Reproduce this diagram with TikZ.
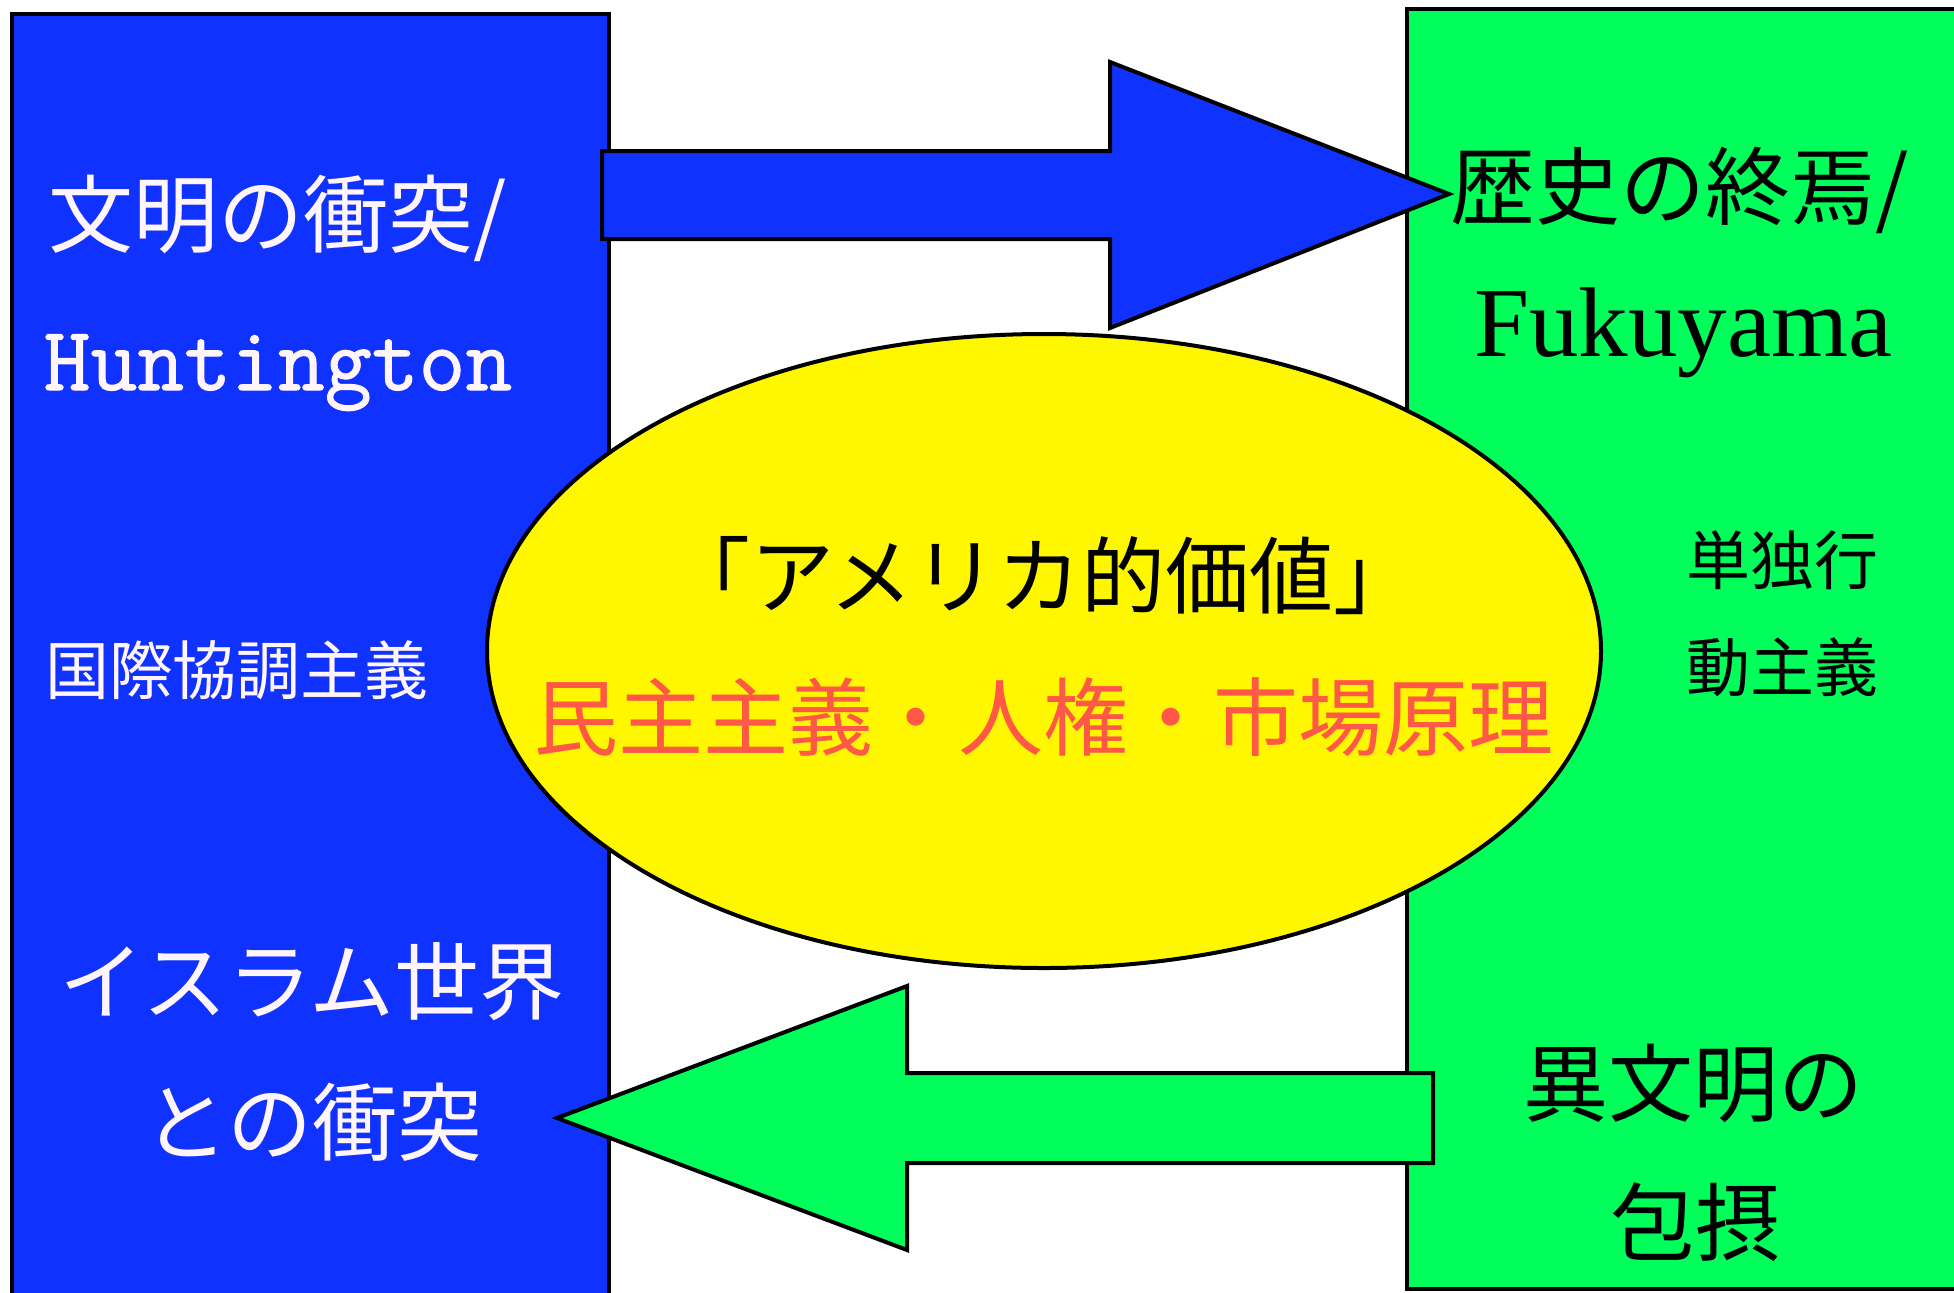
\documentclass[tikz,border=0pt]{standalone}
\usepackage{fontspec}
\usetikzlibrary{shapes.geometric}
\newfontfamily\jp{Noto Sans CJK JP}
\newfontfamily\tms{Liberation Serif}
\newfontfamily\huntfont[FakeBold=1.2]{Latin Modern Mono}
\definecolor{boxblue}{RGB}{16,50,255}
\definecolor{boxgreen}{RGB}{0,255,90}
\definecolor{ellyellow}{RGB}{255,247,0}
\definecolor{valred}{RGB}{255,88,70}
\definecolor{wtext}{RGB}{255,245,250}
\tikzset{
  panel/.style={draw=black, line width=2pt, inner sep=0pt, rectangle},
  bigarrow/.style={draw=black, line width=2pt, line join=miter},
  jpbig/.style={inner sep=0pt, font=\jp\fontsize{42.5}{50}\selectfont},
  jpmid/.style={inner sep=0pt, font=\jp\fontsize{42}{48}\selectfont},
  jpsmall/.style={inner sep=0pt, font=\jp\fontsize{32}{38}\selectfont},
}
\begin{document}
\begin{tikzpicture}[x=0.5pt,y=-0.5pt]
\useasboundingbox (0,0) rectangle (1954,1292);
\fill[white] (0,0) rectangle (1954,1292);
\clip (0,0) rectangle (1954,1292);
% panels
\node[panel, fill=boxblue, minimum width=298.5pt, minimum height=658pt] (left) at (310.5,672) {};
\node[panel, fill=boxgreen, minimum width=296.5pt, minimum height=640pt] (right) at (1703.5,649) {};
% arrows
\draw[bigarrow, fill=boxblue] (602,151) -- (1110,151) -- (1110,62) -- (1449,194) -- (1110,328) -- (1110,239) -- (602,239) -- cycle;
\draw[bigarrow, fill=boxgreen] (1433,1073) -- (907,1073) -- (907,986) -- (557,1118) -- (907,1250) -- (907,1163) -- (1433,1163) -- cycle;
% ellipse
\node[ellipse, draw=black, line width=2pt, fill=ellyellow, inner sep=0pt, minimum width=557pt, minimum height=317pt] (values) at (1044,651) {};
% left texts
\node[jpbig, text=wtext] (clash) at (278,218) {文明の衝突/};
\node[inner sep=0pt, anchor=base, text=wtext, font=\huntfont\fontsize{45.5}{50}\selectfont] (hunt) at (278,390) {Huntington};
\node[jpsmall, text=wtext] (intl) at (237,670) {国際協調主義};
\node[jpbig, text=wtext] (islam1) at (312,982) {イスラム世界};
\node[jpbig, text=wtext] (islam2) at (313,1122) {との衝突};
% right texts
\node[jpbig, text=black] (endhist) at (1680,190) {歴史の終焉/};
\node[inner sep=0pt, anchor=base, text=black, font=\tms\fontsize{49.5}{54}\selectfont] (fuku) at (1683,356) {Fukuyama};
\node[jpsmall, text=black] (uni1) at (1782,560) {単独行};
\node[jpsmall, text=black] (uni2) at (1782,667) {動主義};
\node[jpbig, text=black] (incl1) at (1693,1083) {異文明の};
\node[jpbig, text=black] (incl2) at (1695,1222) {包摂};
% ellipse texts
\node[jpmid, text=black] (amval) at (1042,576) {「アメリカ的価値」};
\node[jpbig, text=valred] (demo) at (1043,717) {民主主義・人権・市場原理};
\end{tikzpicture}
\end{document}
